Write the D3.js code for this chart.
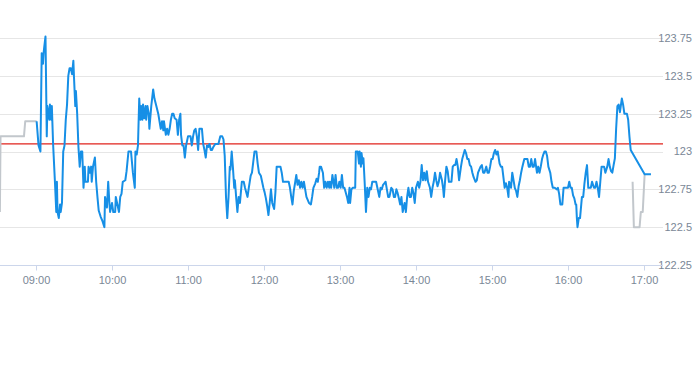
<!DOCTYPE html>
<html><head><meta charset="utf-8">
<script src="https://cdn.jsdelivr.net/npm/d3@7/dist/d3.min.js"></script>
<style>
html,body{margin:0;padding:0;background:#fff;}
svg{display:block;font-family:"Liberation Sans",Arial,sans-serif;}
</style></head>
<body>
<svg id="chart" width="693" height="365"></svg>
<script>
// ---- data (minutes after 09:00, price) ----
const blueSeries = [[0.5,123.20],[2,123.04],[3.5,123.00],[4.5,123.65],[5.5,123.58],[6,123.65],[6.5,123.69],[7.5,123.76],[8.5,123.10],[9,123.30],[10.5,123.21],[11,123.31],[12,123.21],[12.5,123.30],[13.5,123.05],[15,122.79],[16,122.60],[16.5,122.80],[17,122.60],[18,122.56],[19,122.65],[19.5,122.60],[20.5,122.66],[21.5,123.00],[22.5,123.04],[23.5,123.21],[24.5,123.31],[25.5,123.50],[26.5,123.55],[27.5,123.55],[28.5,123.51],[29.5,123.60],[30,123.49],[31,123.30],[31.5,123.40],[32.5,123.25],[33.5,123.03],[34.5,122.90],[35.5,123.00],[36.5,123.00],[37.5,122.76],[38.5,122.90],[39,122.80],[41,122.80],[41.5,122.90],[42.5,122.86],[43.5,122.90],[44,122.80],[45,122.90],[46.5,122.96],[47.5,122.80],[48.5,122.70],[49.5,122.61],[51,122.57],[52.5,122.54],[54,122.50],[54.5,122.70],[56,122.63],[57,122.80],[58,122.65],[58.5,122.60],[60,122.66],[61,122.60],[62.5,122.60],[63,122.70],[64,122.66],[65.5,122.60],[66.5,122.70],[67.5,122.72],[68.5,122.80],[70.5,122.81],[71.5,122.87],[73,123.00],[74,123.00],[75,123.00],[76.5,122.86],[78,122.76],[78.5,123.00],[79.5,122.98],[80.5,123.04],[81.5,123.35],[82.5,123.21],[83,123.30],[84,123.21],[84.5,123.31],[85.5,123.22],[86.5,123.30],[87,123.21],[88,123.30],[89,123.25],[89.5,123.15],[91,123.30],[92.5,123.41],[93.5,123.35],[95,123.30],[96.5,123.25],[97.5,123.20],[98.5,123.15],[99.5,123.20],[100.5,123.14],[101,123.20],[102.5,123.11],[103.5,123.15],[104.5,123.11],[105.5,123.15],[106.5,123.21],[107.5,123.25],[108.5,123.25],[109.5,123.22],[111,123.21],[112,123.11],[113,123.21],[114,123.25],[114.5,123.11],[115.5,123.04],[116.5,123.04],[117.5,122.96],[118.5,123.04],[120,123.10],[121,123.10],[122,123.10],[123,123.04],[124,123.10],[125,123.14],[126,123.15],[127,123.10],[128,123.01],[129,123.15],[130,123.15],[131,123.15],[132,123.05],[133,123.01],[134,122.96],[135,123.04],[136,123.03],[137,123.05],[138,123.01],[139,123.01],[140,123.03],[141.5,123.05],[143,123.05],[144,123.05],[145.5,123.10],[147,123.10],[148,123.08],[149,122.97],[150,122.70],[151,122.56],[152,122.70],[153,122.90],[153.5,122.88],[154.5,123.00],[155.5,122.89],[156.5,122.76],[157,122.81],[158,122.70],[159,122.60],[160,122.70],[161,122.66],[162.5,122.80],[164,122.80],[165,122.76],[167,122.70],[168,122.76],[169.5,122.84],[170.5,122.86],[171.5,122.93],[172.5,123.00],[174,123.00],[175,122.92],[176,122.86],[177.5,122.84],[178.5,122.80],[179.5,122.76],[180.5,122.73],[181.5,122.69],[182.5,122.64],[183.5,122.58],[184.5,122.66],[185.5,122.75],[186.5,122.66],[188,122.62],[189,122.73],[190,122.90],[191.5,122.90],[193,122.90],[194,122.86],[195,122.80],[197,122.80],[198.5,122.80],[199.5,122.80],[200.5,122.76],[201.5,122.70],[202.5,122.65],[203.5,122.74],[204.5,122.79],[205.5,122.845],[206.5,122.78],[207.5,122.81],[208.5,122.76],[209.5,122.80],[210.5,122.76],[211.5,122.80],[212.5,122.75],[213.5,122.70],[215.5,122.66],[217,122.65],[218,122.70],[219,122.76],[220.5,122.79],[221.5,122.82],[222.5,122.80],[223.5,122.86],[224,122.90],[225,122.90],[226.5,122.86],[227.5,122.76],[228.5,122.80],[229.5,122.76],[230.5,122.80],[231.5,122.76],[232,122.80],[233,122.76],[234,122.845],[235.5,122.76],[236.5,122.845],[237.5,122.76],[238.5,122.76],[239.5,122.80],[240.5,122.76],[241.5,122.845],[242.5,122.76],[243.5,122.76],[245.5,122.70],[246.5,122.66],[247.5,122.76],[248,122.66],[249,122.75],[250,122.76],[252,122.76],[252.5,123.00],[254,123.00],[255,122.92],[255.5,123.00],[256.5,122.90],[257,122.99],[258,122.92],[258.5,122.955],[259.5,122.79],[260.5,122.60],[261.5,122.76],[262.5,122.70],[263.5,122.76],[264.5,122.75],[265.5,122.80],[266.5,122.80],[267.5,122.80],[268.5,122.80],[269.5,122.76],[271,122.70],[272,122.76],[273,122.75],[274,122.78],[275,122.79],[276,122.80],[277,122.75],[278,122.70],[279,122.70],[280.5,122.76],[281.5,122.75],[282.5,122.70],[283.5,122.70],[284.5,122.75],[285.5,122.725],[286.5,122.69],[287.5,122.65],[288.5,122.70],[289.5,122.60],[291,122.66],[292,122.60],[293,122.70],[294,122.76],[295,122.70],[296,122.70],[297,122.76],[298,122.725],[299,122.66],[300,122.76],[301.5,122.80],[302.5,122.76],[303.5,122.80],[304.5,122.91],[305.5,122.81],[306.5,122.86],[307.5,122.81],[308.5,122.87],[309.5,122.80],[311,122.76],[312,122.70],[313,122.76],[314,122.80],[315,122.86],[316,122.81],[317,122.77],[318,122.80],[319,122.86],[320.5,122.81],[321.5,122.75],[322,122.70],[323,122.81],[324,122.90],[325,122.87],[326,122.80],[327,122.80],[328,122.80],[329,122.90],[330,122.91],[331,122.91],[332,122.95],[333,122.90],[334,122.81],[335.5,122.90],[336.5,122.95],[337.5,122.98],[338.5,123.01],[339.5,122.99],[340.5,122.95],[341.5,122.95],[342.5,122.91],[343.5,122.90],[344.5,122.86],[345.5,122.83],[347,122.80],[348,122.81],[349,122.86],[350,122.88],[351,122.90],[352,122.91],[353,122.86],[354,122.86],[355.5,122.90],[356.5,122.86],[357.5,122.86],[358.5,122.90],[359.5,122.95],[360.5,122.95],[361.5,122.99],[362.5,123.01],[363.5,122.98],[364.5,123.00],[366,122.92],[367,122.90],[368,122.90],[369,122.83],[370,122.76],[371,122.79],[372,122.76],[373,122.70],[373.5,122.80],[375,122.76],[376,122.86],[377,122.81],[378,122.76],[379,122.74],[380,122.70],[381,122.77],[382,122.81],[383,122.86],[384,122.90],[385.5,122.95],[387,122.95],[388,122.95],[389,122.90],[390,122.90],[391,122.95],[392,122.90],[393,122.90],[394,122.95],[395.5,122.86],[396.5,122.90],[397.5,122.86],[398.5,122.90],[399.5,122.95],[400.5,122.98],[401.5,123.00],[402.5,123.00],[403.5,122.97],[404.5,122.90],[406,122.86],[407,122.80],[408,122.76],[409.5,122.76],[411,122.75],[412,122.76],[413,122.72],[414,122.65],[415.5,122.65],[416.5,122.76],[418,122.76],[420,122.76],[421,122.80],[422,122.76],[423,122.76],[424,122.71],[425,122.69],[426,122.65],[426.5,122.65],[427,122.56],[427.5,122.50],[428.5,122.56],[429.5,122.56],[431,122.70],[432,122.70],[433,122.79],[434,122.86],[435,122.91],[436,122.76],[437,122.76],[438,122.76],[439,122.80],[440.5,122.76],[441.5,122.76],[442.5,122.80],[443.5,122.76],[444.5,122.70],[445.5,122.80],[446.5,122.90],[447.5,122.90],[448.5,122.90],[449.5,122.86],[451,122.90],[452,122.95],[453,122.90],[454,122.87],[455,122.86],[456,122.91],[457,122.955],[458,123.15],[459,123.30],[460,123.31],[461,123.26],[462.5,123.35],[463.5,123.31],[464.5,123.25],[465.5,123.25],[466.5,123.25],[467.5,123.21],[468.5,123.10],[469.5,123.01],[480.5,122.85],[485.5,122.85]];

const grayPre = [[-28.5,122.60],[-28,123.10],[-9.5,123.10],[-8.5,123.20],[0.5,123.20]];
const grayPost = [[471,122.80],[472,122.50],[476.5,122.50],[477.5,122.60],[479,122.60],[480.5,122.85]];

const referencePrice = 123.05;
const yTickValues = [122.25,122.5,122.75,123,123.25,123.5,123.75];
const yTickLabels = ["122.25","122.5","122.75","123","123.25","123.5","123.75"];
const xTickLabels = ["09:00","10:00","11:00","12:00","13:00","14:00","15:00","16:00","17:00"];

// ---- chart ----
const svg = d3.select("#chart");
const base = new Date(2020,0,2,9,0,0);
const toDate = m => new Date(base.getTime() + m*60000);
const parseHM = d3.timeParse("%H:%M");
const dayOf = s => { const t = parseHM(s); return new Date(2020,0,2,t.getHours(),t.getMinutes()); };

const plotLeft = 0, plotRight = 663, plotTop = 38, plotBottom = 265;
const x = d3.scaleTime()
  .domain([new Date(2020,0,2,8,30), new Date(2020,0,2,17,15)])
  .range([-2, plotRight]);
const y = d3.scaleLinear().domain([122.25,123.75]).range([plotBottom, plotTop]);

// grid
svg.append("g").selectAll("line").data(yTickValues.slice(1)).join("line")
  .attr("x1", plotLeft).attr("x2", plotRight)
  .attr("y1", d => Math.round(y(d))+0.5).attr("y2", d => Math.round(y(d))+0.5)
  .attr("stroke", "#e6e6e6").attr("stroke-width", 1);

// y labels
svg.append("g").selectAll("text").data(yTickValues).join("text")
  .attr("x", 692).attr("y", d => y(d)).attr("dy", "0.35em")
  .attr("text-anchor", "end")
  .attr("font-size", 11).attr("fill", "#7a8796")
  .text((d,i) => yTickLabels[i]);

// x axis
const xTicks = xTickLabels.map(dayOf);
const xAxis = d3.axisBottom(x).tickValues(xTicks).tickFormat((d,i) => xTickLabels[i]).tickSize(5).tickPadding(6).tickSizeOuter(0);
const gx = svg.append("g").attr("transform", `translate(0,${plotBottom+0.5})`).call(xAxis);
gx.select(".domain").attr("d", `M${plotLeft},0H${plotRight}`).attr("stroke", "#ccd6eb");
gx.selectAll(".tick line").attr("stroke", "#ccd6eb");
gx.selectAll(".tick text").attr("font-size", 11).attr("fill", "#7a8796").attr("font-family", "'Liberation Sans',Arial,sans-serif");

// reference line
svg.append("line")
  .attr("x1", plotLeft).attr("x2", plotRight)
  .attr("y1", y(referencePrice)).attr("y2", y(referencePrice))
  .attr("stroke", "#e0231c").attr("stroke-width", 1.3);

const line = d3.line().x(d => x(toDate(d[0]))).y(d => y(d[1]));

svg.append("path").datum(grayPre).attr("d", line)
  .attr("fill", "none").attr("stroke", "#c2c7cc").attr("stroke-width", 2).attr("stroke-linejoin", "round");
svg.append("path").datum(grayPost).attr("d", line)
  .attr("fill", "none").attr("stroke", "#c2c7cc").attr("stroke-width", 2).attr("stroke-linejoin", "round");
svg.append("path").datum(blueSeries).attr("d", line)
  .attr("fill", "none").attr("stroke", "#168fe6").attr("stroke-width", 2).attr("stroke-linejoin", "round");
</script>
</body></html>
